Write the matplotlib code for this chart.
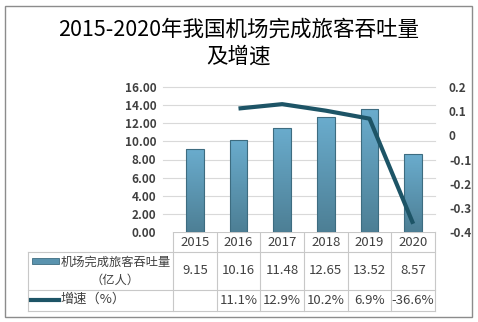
import numpy as np
import matplotlib.pyplot as plt
from matplotlib.colors import LinearSegmentedColormap

plt.rcParams['font.family'] = ['Noto Sans CJK SC', 'DejaVu Sans']

# data
years = ["2015", "2016", "2017", "2018", "2019", "2020"]
volume = [9.15, 10.16, 11.48, 12.65, 13.52, 8.57]
growth = [None, 0.111, 0.129, 0.102, 0.069, -0.366]
growth_labels = ["", "11.1%", "12.9%", "10.2%", "6.9%", "-36.6%"]
series1_name = "机场完成旅客吞吐量\n（亿人）"
series2_name = "增速（%）"

W, H = 478, 322
fig = plt.figure(figsize=(W / 100, H / 100), dpi=100)

def px(x0, y0, x1, y1):
    # pixel box (top-left origin) -> figure fraction
    return [x0 / W, 1 - y1 / H, (x1 - x0) / W, (y1 - y0) / H]

# overlay for frame + table
ov = fig.add_axes([0, 0, 1, 1])
ov.set_xlim(0, W)
ov.set_ylim(H, 0)
ov.axis("off")
ov.add_patch(plt.Rectangle((5.5, 5.5), 467, 311, fill=False, ec="#8c8c8c", lw=1))

fig.text(0.5, 1 - 30 / H, "2015-2020年我国机场完成旅客吞吐量", ha="center", va="center",
         fontsize=15.5, color="black")
fig.text(0.5, 1 - 57 / H, "及增速", ha="center", va="center", fontsize=15.5, color="black")

# main axes
x0, x1, ytop, ybot = 173, 435, 87, 232
ax = fig.add_axes(px(x0, ytop, x1, ybot))
xs = np.arange(len(years))
ax.set_yticks(np.arange(0, 16.1, 2))
ax.set_yticklabels(["%.2f" % v for v in np.arange(0, 16.1, 2)], fontsize=8.5,
                   color="#404040", fontweight="bold")
ax.set_xticks([])
for s in ax.spines.values():
    s.set_visible(False)
ax.tick_params(axis="y", length=0, pad=12)

cmap = LinearSegmentedColormap.from_list("bar", ["#4d7f95", "#6aaccd"])
grad = np.linspace(0, 1, 100).reshape(-1, 1)
bars = ax.bar(xs, volume, width=0.4, color="none", edgecolor="#3d6c80", lw=0.8, zorder=3)
for b in bars:
    im = ax.imshow(grad, cmap=cmap, origin="lower", aspect="auto", zorder=2,
                   extent=[b.get_x(), b.get_x() + b.get_width(), 0, b.get_height()])
    im.set_clip_path(b)
ax.set_xlim(-0.5, len(years) - 0.5)
ax.set_ylim(0, 16)

# gridlines run a bit left of the table, like the source
for v in np.arange(2, 16.1, 2):
    ax.plot([-0.72, len(years) - 0.5], [v, v], color="#d9d9d9", lw=0.8, zorder=1, clip_on=False)

ax2 = ax.twinx()
ax2.set_ylim(-0.4, 0.2)
ax2.set_yticks([-0.4, -0.3, -0.2, -0.1, 0, 0.1, 0.2])
ax2.set_yticklabels(["-0.4", "-0.3", "-0.2", "-0.1", "0", "0.1", "0.2"], fontsize=8.5,
                    color="#404040", fontweight="bold")
ax2.tick_params(axis="y", length=0, pad=10)
for s in ax2.spines.values():
    s.set_visible(False)
ax2.plot(xs[1:], growth[1:], color="#1d5466", lw=3, solid_capstyle="butt", zorder=4)

# table
gc = "#c8c8c8"
col_w = (x1 - x0) / len(years)
rows = [232, 252, 290, 311]
tl = 28
ov.plot([x0, x0], [rows[0], rows[3]], color=gc, lw=0.8)
for i in range(1, len(years) + 1):
    ov.plot([x0 + i * col_w] * 2, [rows[0], rows[3]], color=gc, lw=0.8)
ov.plot([x0, x1], [rows[0], rows[0]], color=gc, lw=0.8)
for r in rows[1:]:
    ov.plot([tl, x1], [r, r], color=gc, lw=0.8)
ov.plot([tl, tl], [rows[1], rows[3]], color=gc, lw=0.8)

fs = 9.5
for i, y in enumerate(years):
    cx = x0 + (i + 0.5) * col_w
    ov.text(cx, (rows[0] + rows[1]) / 2, y, ha="center", va="center", fontsize=fs, color="#404040")
    ov.text(cx, (rows[1] + rows[2]) / 2, "%.2f" % volume[i], ha="center", va="center",
            fontsize=fs, color="#404040")
    ov.text(cx, (rows[2] + rows[3]) / 2, growth_labels[i], ha="center", va="center",
            fontsize=fs, color="#404040")

ov.add_patch(plt.Rectangle((32, 258), 27, 6, fc="#5a93ae", ec="#3d6c80", lw=0.6))
ov.text(115.5, 271, series1_name, ha="center", va="center", fontsize=8.8, color="#404040",
        linespacing=1.5)
ov.plot([31, 59], [299.5, 299.5], color="#1d5466", lw=3)
ov.text(60, 299, series2_name, ha="left", va="center", fontsize=fs, color="#404040")

fig.savefig("out.png", dpi=100)
